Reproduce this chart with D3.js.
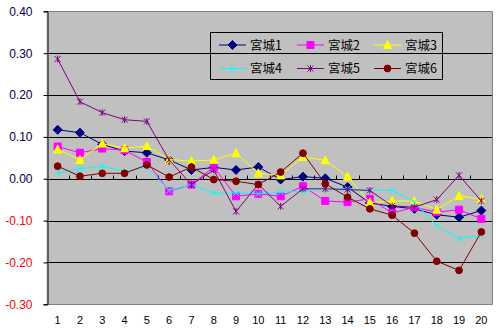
<!DOCTYPE html>
<html>
<head>
<meta charset="utf-8">
<script src="https://cdn.jsdelivr.net/npm/d3@7"></script>
<style>
  html, body { margin: 0; padding: 0; background: #ffffff; }
  svg { display: block; }
</style>
</head>
<body>
<svg id="chart" width="504" height="328"></svg>
<script>
// Categories and series values
const categories = ["1","2","3","4","5","6","7","8","9","10","11","12","13","14","15","16","17","18","19","20"];
const seriesNames = ["宮城1","宮城2","宮城3","宮城4","宮城5","宮城6"];
const miyagi1 = [0.117,0.110,0.082,0.066,0.062,0.045,0.021,0.027,0.021,0.028,-0.002,0.005,0.001,-0.020,-0.058,-0.066,-0.072,-0.086,-0.092,-0.076];
const miyagi2 = [0.077,0.062,0.072,0.068,0.040,-0.030,-0.014,0.028,-0.042,-0.036,-0.042,-0.018,-0.053,-0.056,-0.048,-0.082,-0.068,-0.080,-0.074,-0.096];
const miyagi3 = [0.070,0.045,0.084,0.073,0.078,0.046,0.042,0.045,0.061,0.013,0.008,0.052,0.044,0.005,-0.057,-0.053,-0.053,-0.074,-0.041,-0.049];
const miyagi4 = [0.014,0.024,0.030,0.017,0.028,-0.028,-0.014,-0.034,-0.034,-0.036,-0.032,-0.030,-0.024,-0.024,-0.027,-0.028,-0.056,-0.112,-0.143,-0.135];
const miyagi5 = [0.286,0.184,0.158,0.141,0.137,0.045,-0.014,0.021,-0.078,-0.013,-0.066,-0.024,-0.024,-0.026,-0.028,-0.065,-0.068,-0.050,0.008,-0.053];
const miyagi6 = [0.030,0.006,0.013,0.013,0.033,0.004,0.028,-0.002,-0.006,-0.014,0.016,0.061,-0.012,-0.044,-0.072,-0.087,-0.130,-0.197,-0.219,-0.127];
const yTicks = [-0.3,-0.2,-0.1,0,0.1,0.2,0.3,0.4];

const seriesValues = [miyagi1, miyagi2, miyagi3, miyagi4, miyagi5, miyagi6];
const colors = ["#000080","#FF00FF","#FFFF00","#00FFFF","#800080","#800000"];
const markerKinds = ["diamond","square","triangle","cross","star","circle"];

const svg = d3.select("#chart");
const plot = { left: 46.5, right: 492.5, top: 11.3, bottom: 304.3 };

const x = d3.scaleBand().domain(categories).range([plot.left, plot.right]);
const xc = c => x(c) + x.bandwidth() / 2;
const y = d3.scaleLinear().domain([-0.3, 0.4]).range([plot.bottom, plot.top]);

// Plot background
svg.append("rect")
  .attr("x", plot.left).attr("y", plot.top)
  .attr("width", plot.right - plot.left).attr("height", plot.bottom - plot.top)
  .attr("fill", "#C0C0C0");

// Horizontal gridlines
svg.append("g").selectAll("line")
  .data(yTicks.filter(t => t !== 0.4 && t !== -0.3))
  .join("line")
  .attr("x1", plot.left).attr("x2", plot.right)
  .attr("y1", d => Math.round(y(d)) + 0.5).attr("y2", d => Math.round(y(d)) + 0.5)
  .attr("stroke", "#000").attr("stroke-width", 1);

// Gray frame on top, right and bottom
svg.append("path")
  .attr("d", `M${plot.left},${Math.round(plot.top)+0.5}H${plot.right}V${Math.round(plot.bottom)+0.5}H${plot.left}`)
  .attr("fill", "none").attr("stroke", "#808080").attr("stroke-width", 1);

// Value axis on the left
const yAxis = d3.axisLeft(y).tickValues(yTicks).tickSize(4).tickPadding(11)
  .tickFormat(d => d3.format(".2f")(d).replace("−", "-"));
const gy = svg.append("g").attr("transform", `translate(${Math.round(plot.left)+0.5},0)`).call(yAxis);
gy.select(".domain").attr("stroke", "#000");
gy.selectAll(".tick line").attr("stroke", "#000");
gy.selectAll(".tick text")
  .attr("font-family", "'Liberation Sans', Arial, sans-serif")
  .attr("font-size", 12)
  .attr("fill", d => d < 0 ? "#FF0000" : "#000050");

// Category axis crossing at zero, ticks between categories
const zeroY = Math.round(y(0)) + 0.5;
svg.append("line")
  .attr("x1", plot.left).attr("x2", plot.right)
  .attr("y1", zeroY).attr("y2", zeroY)
  .attr("stroke", "#000");
svg.append("g").selectAll("line")
  .data(categories.slice(1))
  .join("line")
  .attr("x1", d => Math.round(x(d)) + 0.5).attr("x2", d => Math.round(x(d)) + 0.5)
  .attr("y1", zeroY).attr("y2", zeroY - 4)
  .attr("stroke", "#000");

// Category labels along the bottom
svg.append("g").selectAll("text")
  .data(categories)
  .join("text")
  .attr("x", d => xc(d)).attr("y", 323.5)
  .attr("text-anchor", "middle")
  .attr("font-family", "'Liberation Sans', Arial, sans-serif")
  .attr("font-size", 11)
  .attr("fill", "#000")
  .text(d => d);

// Marker shapes
function markerPath(kind) {
  switch (kind) {
    case "diamond": return "M0,-4.5L4.5,0L0,4.5L-4.5,0Z";
    case "square": return "M-3.5,-3.5H3.5V3.5H-3.5Z";
    case "triangle": return "M0,-4.5L4,3.5H-4Z";
    case "cross": return "M-3,-3L3,3M3,-3L-3,3";
    case "star": return "M-3,-3L3,3M3,-3L-3,3M0,-3.5V3.5";
    case "circle": return d3.symbol(d3.symbolCircle, 36)();
  }
}
function drawMarker(g, kind, color) {
  const filled = kind !== "cross" && kind !== "star";
  g.append("path")
    .attr("d", markerPath(kind))
    .attr("fill", filled ? color : "none")
    .attr("stroke", color)
    .attr("stroke-width", 1);
}

// Series lines and markers
const line = d3.line().x((d, i) => xc(categories[i])).y(d => y(d));
seriesValues.forEach((vals, s) => {
  const g = svg.append("g");
  g.append("path")
    .attr("d", line(vals))
    .attr("fill", "none")
    .attr("stroke", colors[s])
    .attr("stroke-width", 1);
  vals.forEach((v, i) => {
    const m = g.append("g").attr("transform", `translate(${xc(categories[i])},${y(v)})`);
    drawMarker(m, markerKinds[s], colors[s]);
  });
});

// Legend
const legend = svg.append("g");
legend.append("rect")
  .attr("x", 210.5).attr("y", 32.5).attr("width", 232).attr("height", 47)
  .attr("fill", "none").attr("stroke", "#000").attr("stroke-width", 1);
const colX = [219, 297, 374];
const rowY = [45, 68.5];
const textX = [250, 328, 405];
seriesNames.forEach((name, s) => {
  const c = s % 3, r = Math.floor(s / 3);
  const item = legend.append("g");
  item.append("line")
    .attr("x1", colX[c]).attr("x2", colX[c] + 27)
    .attr("y1", rowY[r]).attr("y2", rowY[r])
    .attr("stroke", colors[s]).attr("stroke-width", 1);
  const m = item.append("g").attr("transform", `translate(${colX[c] + 13.5},${rowY[r]})`);
  drawMarker(m, markerKinds[s], colors[s]);
  item.append("text")
    .attr("x", textX[c]).attr("y", rowY[r] + 4.5)
    .attr("font-family", "'Noto Sans CJK JP', sans-serif")
    .attr("font-size", 12.5)
    .attr("fill", "#000")
    .text(name);
});
</script>
</body>
</html>
